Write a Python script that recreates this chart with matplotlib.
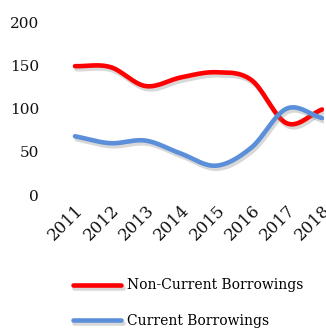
import numpy as np
import matplotlib
matplotlib.use("Agg")
import matplotlib.pyplot as plt
import matplotlib.patheffects as pe

years = ["2011", "2012", "2013", "2014", "2015", "2016", "2017", "2018"]
non_current = [149, 148, 126, 136, 142, 133, 83, 99]
current = [68, 60, 63, 48, 34, 55, 100, 89]

plt.rcParams['font.family'] = ['DejaVu Serif']

def catmull(xs, ys, n=30):
    xs = np.asarray(xs, float); ys = np.asarray(ys, float)
    px = np.concatenate([[2*xs[0]-xs[1]], xs, [2*xs[-1]-xs[-2]]])
    py = np.concatenate([[2*ys[0]-ys[1]], ys, [2*ys[-1]-ys[-2]]])
    ox, oy = [], []
    for i in range(1, len(px)-2):
        t = np.linspace(0, 1, n, endpoint=False)
        for arr, out in ((px, ox), (py, oy)):
            p0, p1, p2, p3 = arr[i-1], arr[i], arr[i+1], arr[i+2]
            out.extend(0.5*((2*p1) + (-p0+p2)*t + (2*p0-5*p1+4*p2-p3)*t**2 + (-p0+3*p1-3*p2+p3)*t**3))
    ox.append(xs[-1]); oy.append(ys[-1])
    return np.array(ox), np.array(oy)

fig = plt.figure(figsize=(3.26, 3.29), dpi=100)
ax = fig.add_axes([0.2138, 0.407, 0.7795, 0.526])
x = np.arange(len(years))
shadow = [pe.SimpleLineShadow(offset=(1.2, -2.2), shadow_color='gray', alpha=0.3), pe.Normal()]
sx, sy = catmull(x, non_current)
ax.plot(sx, sy, color='#FF0000', lw=3.3, solid_capstyle='round', label='Non-Current Borrowings', path_effects=shadow)
sx, sy = catmull(x, current)
ax.plot(sx, sy, color='#5B8FD9', lw=3.3, solid_capstyle='round', label='Current Borrowings', path_effects=shadow)

ax.set_ylim(0, 200)
ax.set_yticks([0, 50, 100, 150, 200])
ax.set_xlim(-0.15, 7.05)
ax.set_xticks(x)
ax.set_xticklabels(years, rotation=45, ha='right', rotation_mode='anchor')
ax.tick_params(length=0, labelsize=11, colors='#111111')
ax.tick_params(axis='x', labelsize=12, pad=5)
ax.tick_params(axis='y', pad=22)
for s in ax.spines.values():
    s.set_visible(False)

leg = fig.legend(loc='lower left', bbox_to_anchor=(0.185, -0.035), frameon=False,
                 fontsize=10, handlelength=3.5, labelspacing=1.55, handletextpad=0.4)
fig.savefig("out.png", dpi=100)
